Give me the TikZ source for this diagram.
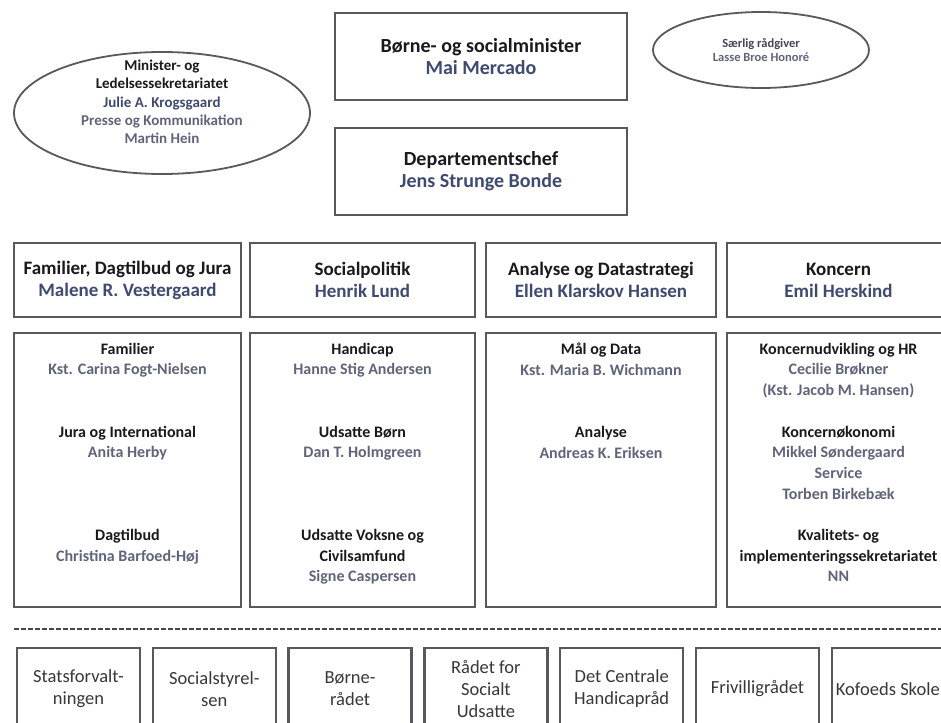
\documentclass[tikz,border=0pt]{standalone}
\usepackage{fontspec}
\setmainfont{Carlito}
\usetikzlibrary{positioning,shapes.geometric}

\definecolor{boxline}{RGB}{88,88,94}
\definecolor{titletext}{RGB}{25,25,30}
\definecolor{leadname}{RGB}{62,74,112}
\definecolor{staffname}{RGB}{96,100,122}
\definecolor{agencytext}{RGB}{55,55,60}

\begin{document}
\begin{tikzpicture}[x=1pt, y=-1pt, text=titletext,
    box/.style = {draw=boxline, line width=2.4pt, inner sep=0pt},
    topbox/.style = {box, minimum width=292pt, minimum height=87pt, align=center, font=\bfseries\fontsize{20}{22}\selectfont},
    headbox/.style = {box, minimum height=74pt, align=center, font=\bfseries\fontsize{19}{22}\selectfont},
    unitbox/.style = {box, minimum height=274pt},
    unittext/.style = {align=center, inner sep=0pt, font=\bfseries\fontsize{16}{20.7}\selectfont},
    oval/.style = {ellipse, draw=boxline, line width=1.8pt, inner sep=0pt},
    agency/.style = {box, minimum width=123pt, minimum height=82pt, align=center, text=agencytext, font=\fontsize{18.5}{22}\selectfont},
    separator/.style = {draw=boxline!80!black, line width=2.2pt, dash pattern=on 5pt off 2pt}]

    \path[use as bounding box, fill=white] (0,0) rectangle (941,722);

    % minister and staff
    \node[topbox] (minister) at (481,56.5) {Børne- og socialminister\\\textcolor{leadname}{Mai Mercado}};
    \node[topbox, below=25.6pt of minister] (depchef) {Departementschef\\\textcolor{leadname}{Jens Strunge Bonde}};
    \node[oval, minimum width=296pt, minimum height=122pt] (secretariat) at (162,113) {};
    \node[align=center, font=\bfseries\fontsize{15}{18.3}\selectfont] (secretariattxt) at (162,102) {Minister- og\\Ledelsessekretariatet\\\textcolor{leadname}{Julie A. Krogsgaard}\\\textcolor{staffname}{Presse og Kommunikation}\\\textcolor{staffname}{Martin Hein}};
    \node[oval, minimum width=216pt, minimum height=76pt, align=center, font=\bfseries\fontsize{12.5}{14}\selectfont] (advisor) at (761,50) {\textcolor{staffname!70!black}{Særlig rådgiver}\\\textcolor{staffname}{Lasse Broe Honoré}};

    % divisions
    \node[headbox, minimum width=227pt] (famH) at (127.5,280) {Familier, Dagtilbud og Jura\\\textcolor{leadname}{Malene R. Vestergaard}};
    \node[headbox, minimum width=225pt] (socH) at (362.5,280) {Socialpolitik\\\textcolor{leadname}{Henrik Lund}};
    \node[headbox, minimum width=230pt] (dataH) at (601,280) {Analyse og Datastrategi\\\textcolor{leadname}{Ellen Klarskov Hansen}};
    \node[headbox, minimum width=223pt] (koncH) at (838.5,280) {Koncern\\\textcolor{leadname}{Emil Herskind}};

    % units
    \node[unitbox, minimum width=227pt] (famU) at (127.5,470) {};
    \node[unitbox, minimum width=225pt] (socU) at (362.5,470) {};
    \node[unitbox, minimum width=230pt] (dataU) at (601,470) {};
    \node[unitbox, minimum width=223pt] (koncU) at (838.5,470) {};

    \node[unittext, below=11pt of famU.north] (famUtxt) {Familier\\\textcolor{staffname}{Kst. Carina Fogt-Nielsen}\\[41.4pt]Jura og International\\\textcolor{staffname}{Anita Herby}\\[62.1pt]Dagtilbud\\\textcolor{staffname}{Christina Barfoed-Høj}};
    \node[unittext, below=11pt of socU.north] (socUtxt) {Handicap\\\textcolor{staffname}{Hanne Stig Andersen}\\[41.4pt]Udsatte Børn\\\textcolor{staffname}{Dan T. Holmgreen}\\[62.1pt]Udsatte Voksne og\\Civilsamfund\\\textcolor{staffname}{Signe Caspersen}};
    \node[unittext, below=11pt of dataU.north] (dataUtxt) {Mål og Data\\\textcolor{staffname}{Kst. Maria B. Wichmann}\\[41.4pt]Analyse\\\textcolor{staffname}{Andreas K. Eriksen}};
    \node[unittext, below=11pt of koncU.north] (koncUtxt) {Koncernudvikling og HR\\\textcolor{staffname}{Cecilie Brøkner}\\\textcolor{staffname}{(Kst. Jacob M. Hansen)}\\[20.7pt]Koncernøkonomi\\\textcolor{staffname}{Mikkel Søndergaard}\\\textcolor{staffname}{Service}\\\textcolor{staffname}{Torben Birkebæk}\\[20.7pt]Kvalitets- og\\implementeringssekretariatet\\\textcolor{staffname}{NN}};

    % separator
    \coordinate (sepL) at (14,629);
    \coordinate (sepR) at (945,629);
    \draw[separator] (sepL) -- (sepR);

    % agencies and councils
    \node[agency] (statsforv) at (78.5,689) {Statsforvalt-\\ningen};
    \node[agency, right=10.4pt of statsforv] (socstyr) {Socialstyrel-\\sen};
    \node[agency, right=10.4pt of socstyr] (bornerad) {Børne-\\rådet};
    \node[agency, right=10.4pt of bornerad] (udsatterad) {Rådet for\\Socialt\\Udsatte};
    \node[agency, right=10.4pt of udsatterad] (handicaprad) {Det Centrale\\Handicapråd};
    \node[agency, right=10.4pt of handicaprad] (frivrad) {Frivilligrådet};
    \node[agency, minimum width=112pt, right=10.4pt of frivrad] (kofoed) {Kofoeds Skole};

\end{tikzpicture}
\end{document}
